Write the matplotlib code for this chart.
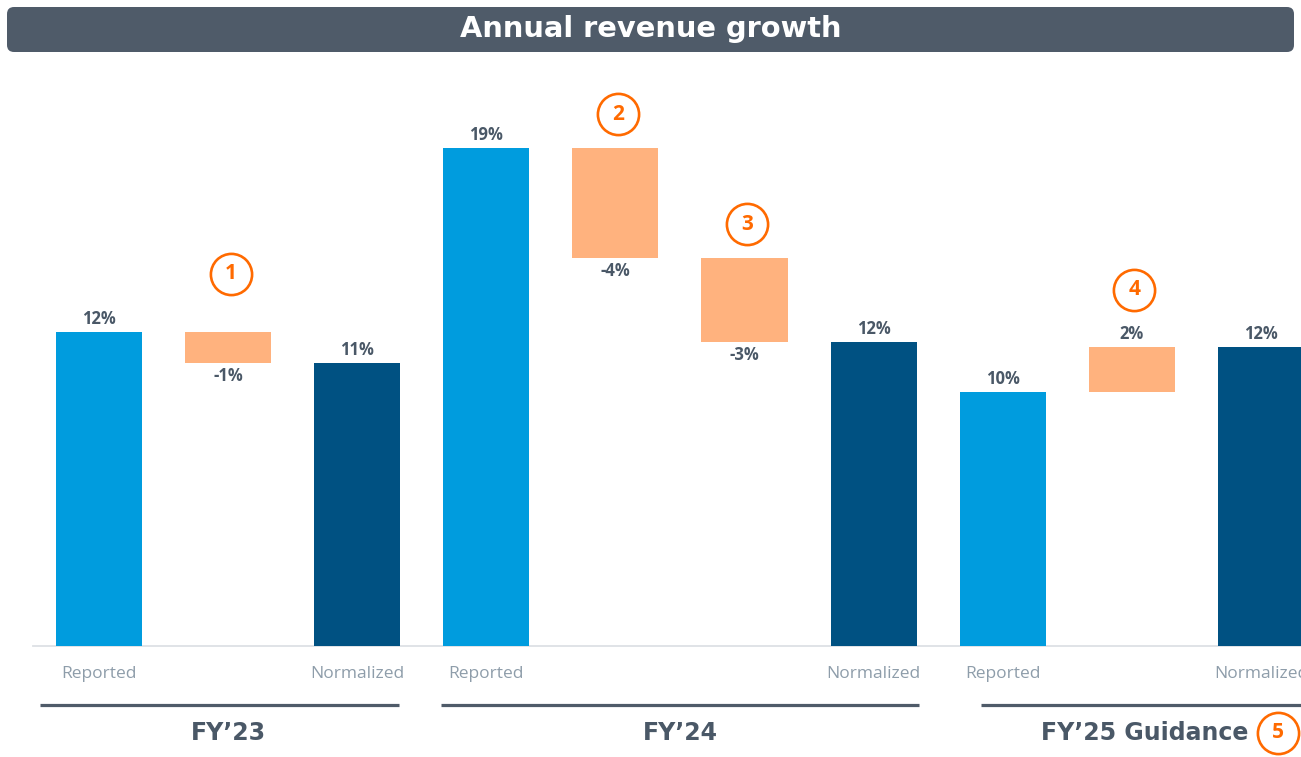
import numpy as np
import matplotlib
matplotlib.use("Agg")
import matplotlib.pyplot as plt
from matplotlib.patches import FancyBboxPatch
from matplotlib.transforms import IdentityTransform

# ── data ───────────────────────────────────────────────────────────────────
kinds  = ["total", "delta", "total", "total", "delta", "delta", "total", "total", "delta", "total"]
values = [12.0, -1.2, 10.8, 19.0, -4.2, -3.2, 11.6, 9.7, 1.7, 11.4]
labels = ["12%", "-1%", "11%", "19%", "-4%", "-3%", "12%", "10%", "2%", "12%"]
cats   = ["Reported", "", "Normalized", "Reported", "", "", "Normalized", "Reported", "", "Normalized"]

groups      = ["FY\u201923", "FY\u201924", "FY\u201925 Guidance"]
group_slots = [(0, 2), (3, 6), (7, 9)]
group_lines = [(-0.46, 2.32), (2.65, 6.35), (6.83, 9.4)]

notes      = ["1", "2", "3", "4"]
note_slots = [1, 4, 5, 8]
note_gap   = [2.2, 1.3, 1.3, 2.2]   # above bar top

# ── style ──────────────────────────────────────────────────────────────────
C_REP   = "#009CDE"
C_NORM  = "#005182"
C_DELTA = "#FFB27E"
C_NOTE  = "#FF6A00"
C_TEXT  = "#4A5867"
C_CAT   = "#8E9DAA"
C_BAR   = "#4F5B69"
SANS  = ["Open Sans", "DejaVu Sans"]
TITLE = ["DejaVu Sans"]

W, H = 1301, 757
fig = plt.figure(figsize=(W / 100, H / 100), dpi=100)
ax = fig.add_axes([0, 0, 1, 1])
ax.set_xlim(-99 / 129.1, (W - 99) / 129.1)
ax.set_ylim(-111 / 26.2, (H - 111) / 26.2)
ax.axis("off")

# ── waterfall bars ─────────────────────────────────────────────────────────
x = np.arange(len(values))
bottoms, colors = [], []
run = 0.0
for i, (k, v) in enumerate(zip(kinds, values)):
    if k == "total":
        bottoms.append(0.0)
        colors.append(C_NORM if cats[i] == "Normalized" else C_REP)
        run = v
    else:
        bottoms.append(run)
        colors.append(C_DELTA)
        run += v
ax.bar(x, values, bottom=bottoms, width=0.667, color=colors, zorder=3)

for i, (v, b, lab) in enumerate(zip(values, bottoms, labels)):
    if v >= 0:
        ax.text(i, b + v + 0.15, lab, ha="center", va="bottom", fontsize=12,
                fontweight="bold", color=C_TEXT, family=SANS)
    else:
        ax.text(i, b + v - 0.15, lab, ha="center", va="top", fontsize=12,
                fontweight="bold", color=C_TEXT, family=SANS)

# baseline
ax.plot([-0.51, len(values)], [0, 0], color="#DDE1E5", lw=1.3, zorder=2)

# category labels
for i, c in enumerate(cats):
    if c:
        ax.text(i, -1.07, c, ha="center", va="center", fontsize=12.5,
                color=C_CAT, family=SANS)

# group underlines + names
for (l0, l1) in group_lines:
    ax.plot([l0, l1], [-2.25, -2.25], color=C_BAR, lw=2.3, solid_capstyle="butt")
for (a, b), g in zip(group_slots[:2], groups[:2]):
    ax.text((a + b) / 2, -3.32, g, ha="center", va="center", fontsize=17,
            fontweight="bold", color=C_TEXT, family=TITLE)
ax.text(8.9, -3.32, groups[2], ha="right", va="center", fontsize=17,
        fontweight="bold", color=C_TEXT, family=TITLE)

# numbered notes
def note(xp, yp, s):
    ax.scatter([xp], [yp], s=880, facecolor="white", edgecolor=C_NOTE,
               linewidth=1.9, zorder=5, clip_on=False)
    ax.text(xp, yp, s, ha="center", va="center", fontsize=15, fontweight="bold",
            color=C_NOTE, family=SANS, zorder=6)

for n, s, gap in zip(notes, note_slots, note_gap):
    top = max(bottoms[s], bottoms[s] + values[s])
    note(s + 0.02, top + gap, n)
note(9.13, -3.32, "5")

# ── title bar ──────────────────────────────────────────────────────────────
bar = FancyBboxPatch((7, H - 52), W - 14, 45, boxstyle="round,pad=0,rounding_size=7",
                     transform=IdentityTransform(), facecolor=C_BAR, edgecolor="none")
fig.patches.append(bar)
fig.text(0.5, 1 - 29 / H, "Annual revenue growth", ha="center", va="center",
         fontsize=20.8, fontweight="bold", color="white", family=TITLE)

fig.savefig("out.png", dpi=100)
